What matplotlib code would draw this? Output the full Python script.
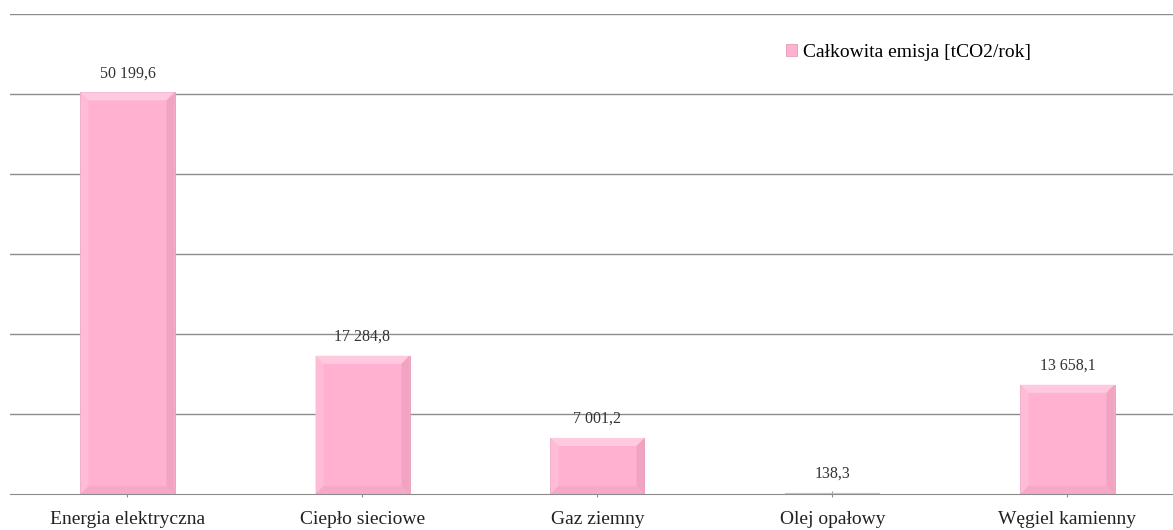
import matplotlib.pyplot as plt
from matplotlib.patches import Polygon

categories = ["Energia elektryczna", "Ciepło sieciowe", "Gaz ziemny", "Olej opałowy", "Węgiel kamienny"]
values = [50199.6, 17284.8, 7001.2, 138.3, 13658.1]
series_name = "Całkowita emisja [tCO2/rok]"

serif = ['Liberation Serif', 'DejaVu Serif']
plt.rcParams['font.family'] = serif

fig = plt.figure(figsize=(11.73, 5.30), dpi=100)
ax = fig.add_axes([10/1173, 36/530, 1163/1173, 480/530])

xs = list(range(len(categories)))
ax.set_xlim(-0.5, -0.5 + 1163/235)
ax.set_ylim(0, 60000)

for y in range(10000, 60001, 10000):
    ax.axhline(y, color="#8c8c8c", lw=1.0, zorder=0)

face = "#ffb1cf"
width = 0.4
bars = ax.bar(xs, values, width=width, color=face, edgecolor="#e39cb8", lw=0.6, zorder=2)

# bevel shading
bx = 8 / 235
by = 8 / 0.008
for b, v in zip(bars, values):
    x0, x1 = b.get_x(), b.get_x() + b.get_width()
    h = v
    d = min(by, h / 2)
    e = bx * d / by
    top = Polygon([(x0, h), (x1, h), (x1 - e, h - d), (x0 + e, h - d)],
                  closed=True, color="#ffcadf", lw=0, zorder=3)
    left = Polygon([(x0, 0), (x0, h), (x0 + e, h - d), (x0 + e, d)],
                   closed=True, color="#ffbcd6", lw=0, zorder=3)
    right = Polygon([(x1, 0), (x1, h), (x1 - e, h - d), (x1 - e, d)],
                    closed=True, color="#f0a4c2", lw=0, zorder=3)
    bottom = Polygon([(x0, 0), (x1, 0), (x1 - e, d), (x0 + e, d)],
                     closed=True, color="#f5a9c7", lw=0, zorder=3)
    for p in (top, left, right, bottom):
        ax.add_patch(p)
    lab = f"{v:,.1f}".replace(",", " ").replace(".", ",")
    ax.annotate(lab, (b.get_x() + b.get_width() / 2, h), xytext=(0, 8),
                textcoords="offset points", ha="center", va="bottom",
                fontsize=11.5, color="#333333", family=serif)

ax.set_xticks(xs)
ax.set_xticklabels(categories, fontsize=14, family=serif, color="#222222")
ax.tick_params(axis="x", length=5, color="#8c8c8c", direction="inout", pad=10)
ax.set_yticks([])
for s in ["top", "right", "left"]:
    ax.spines[s].set_visible(False)
ax.spines["bottom"].set_color("#8c8c8c")
ax.spines["bottom"].set_zorder(4)

leg = ax.legend([bars[0]], [series_name], loc="upper left",
                bbox_to_anchor=(758/1163, (494 - 26)/480), frameon=False,
                prop={'family': serif, 'size': 14},
                handlelength=0.6, handleheight=0.6, handletextpad=0.3)

fig.savefig("out.png")
